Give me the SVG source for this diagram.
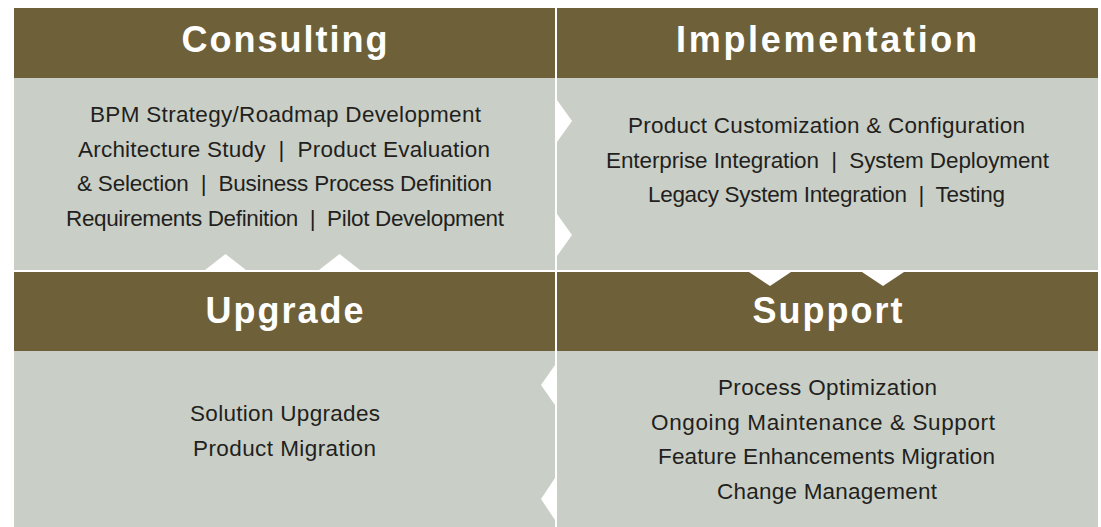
<svg xmlns="http://www.w3.org/2000/svg" width="1101" height="527" viewBox="0 0 1101 527">
  <style>
    .head { fill: #6e6039; }
    .body { fill: #c9cfc7; }
    .title { font-family: "Liberation Sans", Arial, sans-serif; font-weight: bold; font-size: 36px; letter-spacing: 2px; fill: #ffffff; text-anchor: middle; }
    .item { font-family: "Liberation Sans", Arial, sans-serif; font-size: 22.5px; fill: #231f20; text-anchor: middle; white-space: pre; }
    .chev { fill: #ffffff; }
  </style>

  <rect x="0" y="0" width="1101" height="527" fill="#ffffff"/>

  <!-- Consulting -->
  <g id="consulting">
    <rect class="head" x="14" y="8" width="541" height="70"/>
    <rect class="body" x="14" y="78" width="541" height="192"/>
    <text class="title" x="285.5" y="52">Consulting</text>
    <text class="item" x="285.5" y="122" textLength="391">BPM Strategy/Roadmap Development</text>
    <text class="item" x="284" y="156.5" textLength="412">Architecture Study  |  Product Evaluation</text>
    <text class="item" x="284.5" y="191" textLength="415">&amp; Selection  |  Business Process Definition</text>
    <text class="item" x="285" y="225.5" textLength="438">Requirements Definition  |  Pilot Development</text>
  </g>

  <!-- Implementation -->
  <g id="implementation">
    <rect class="head" x="557" y="8" width="541" height="70"/>
    <rect class="body" x="557" y="78" width="541" height="192"/>
    <text class="title" x="827.5" y="52" textLength="303">Implementation</text>
    <text class="item" x="826.5" y="133" textLength="397">Product Customization &amp; Configuration</text>
    <text class="item" x="827.5" y="167.5" textLength="443">Enterprise Integration  |  System Deployment</text>
    <text class="item" x="826.5" y="202" textLength="357">Legacy System Integration  |  Testing</text>
  </g>

  <!-- Upgrade -->
  <g id="upgrade">
    <rect class="head" x="14" y="272" width="541" height="79"/>
    <rect class="body" x="14" y="351" width="541" height="176"/>
    <text class="title" x="285.5" y="323">Upgrade</text>
    <text class="item" x="285" y="421" textLength="190">Solution Upgrades</text>
    <text class="item" x="284.5" y="455.5" textLength="183">Product Migration</text>
  </g>

  <!-- Support -->
  <g id="support">
    <rect class="head" x="557" y="272" width="541" height="79"/>
    <rect class="body" x="557" y="351" width="541" height="176"/>
    <text class="title" x="828.5" y="323">Support</text>
    <text class="item" x="827.5" y="395" textLength="219">Process Optimization</text>
    <text class="item" x="823" y="429.5" textLength="344">Ongoing Maintenance &amp; Support</text>
    <text class="item" x="826.5" y="464" textLength="337">Feature Enhancements Migration</text>
    <text class="item" x="827" y="498.5" textLength="220">Change Management</text>
  </g>

  <!-- Chevrons leading from one phase into the next -->
  <g id="connectors">
    <polygon class="chev" points="557,100 572,121 557,142"/>
    <polygon class="chev" points="557,214 572,235 557,256"/>
    <polygon class="chev" points="749,272 770,286 791,272"/>
    <polygon class="chev" points="862,272 883,286 904,272"/>
    <polygon class="chev" points="555,365 541,385 555,405"/>
    <polygon class="chev" points="555,478 541,499 555,520"/>
    <polygon class="chev" points="205,270 225.5,254 246,270"/>
    <polygon class="chev" points="319,270 339.5,254 360,270"/>
  </g>
</svg>
